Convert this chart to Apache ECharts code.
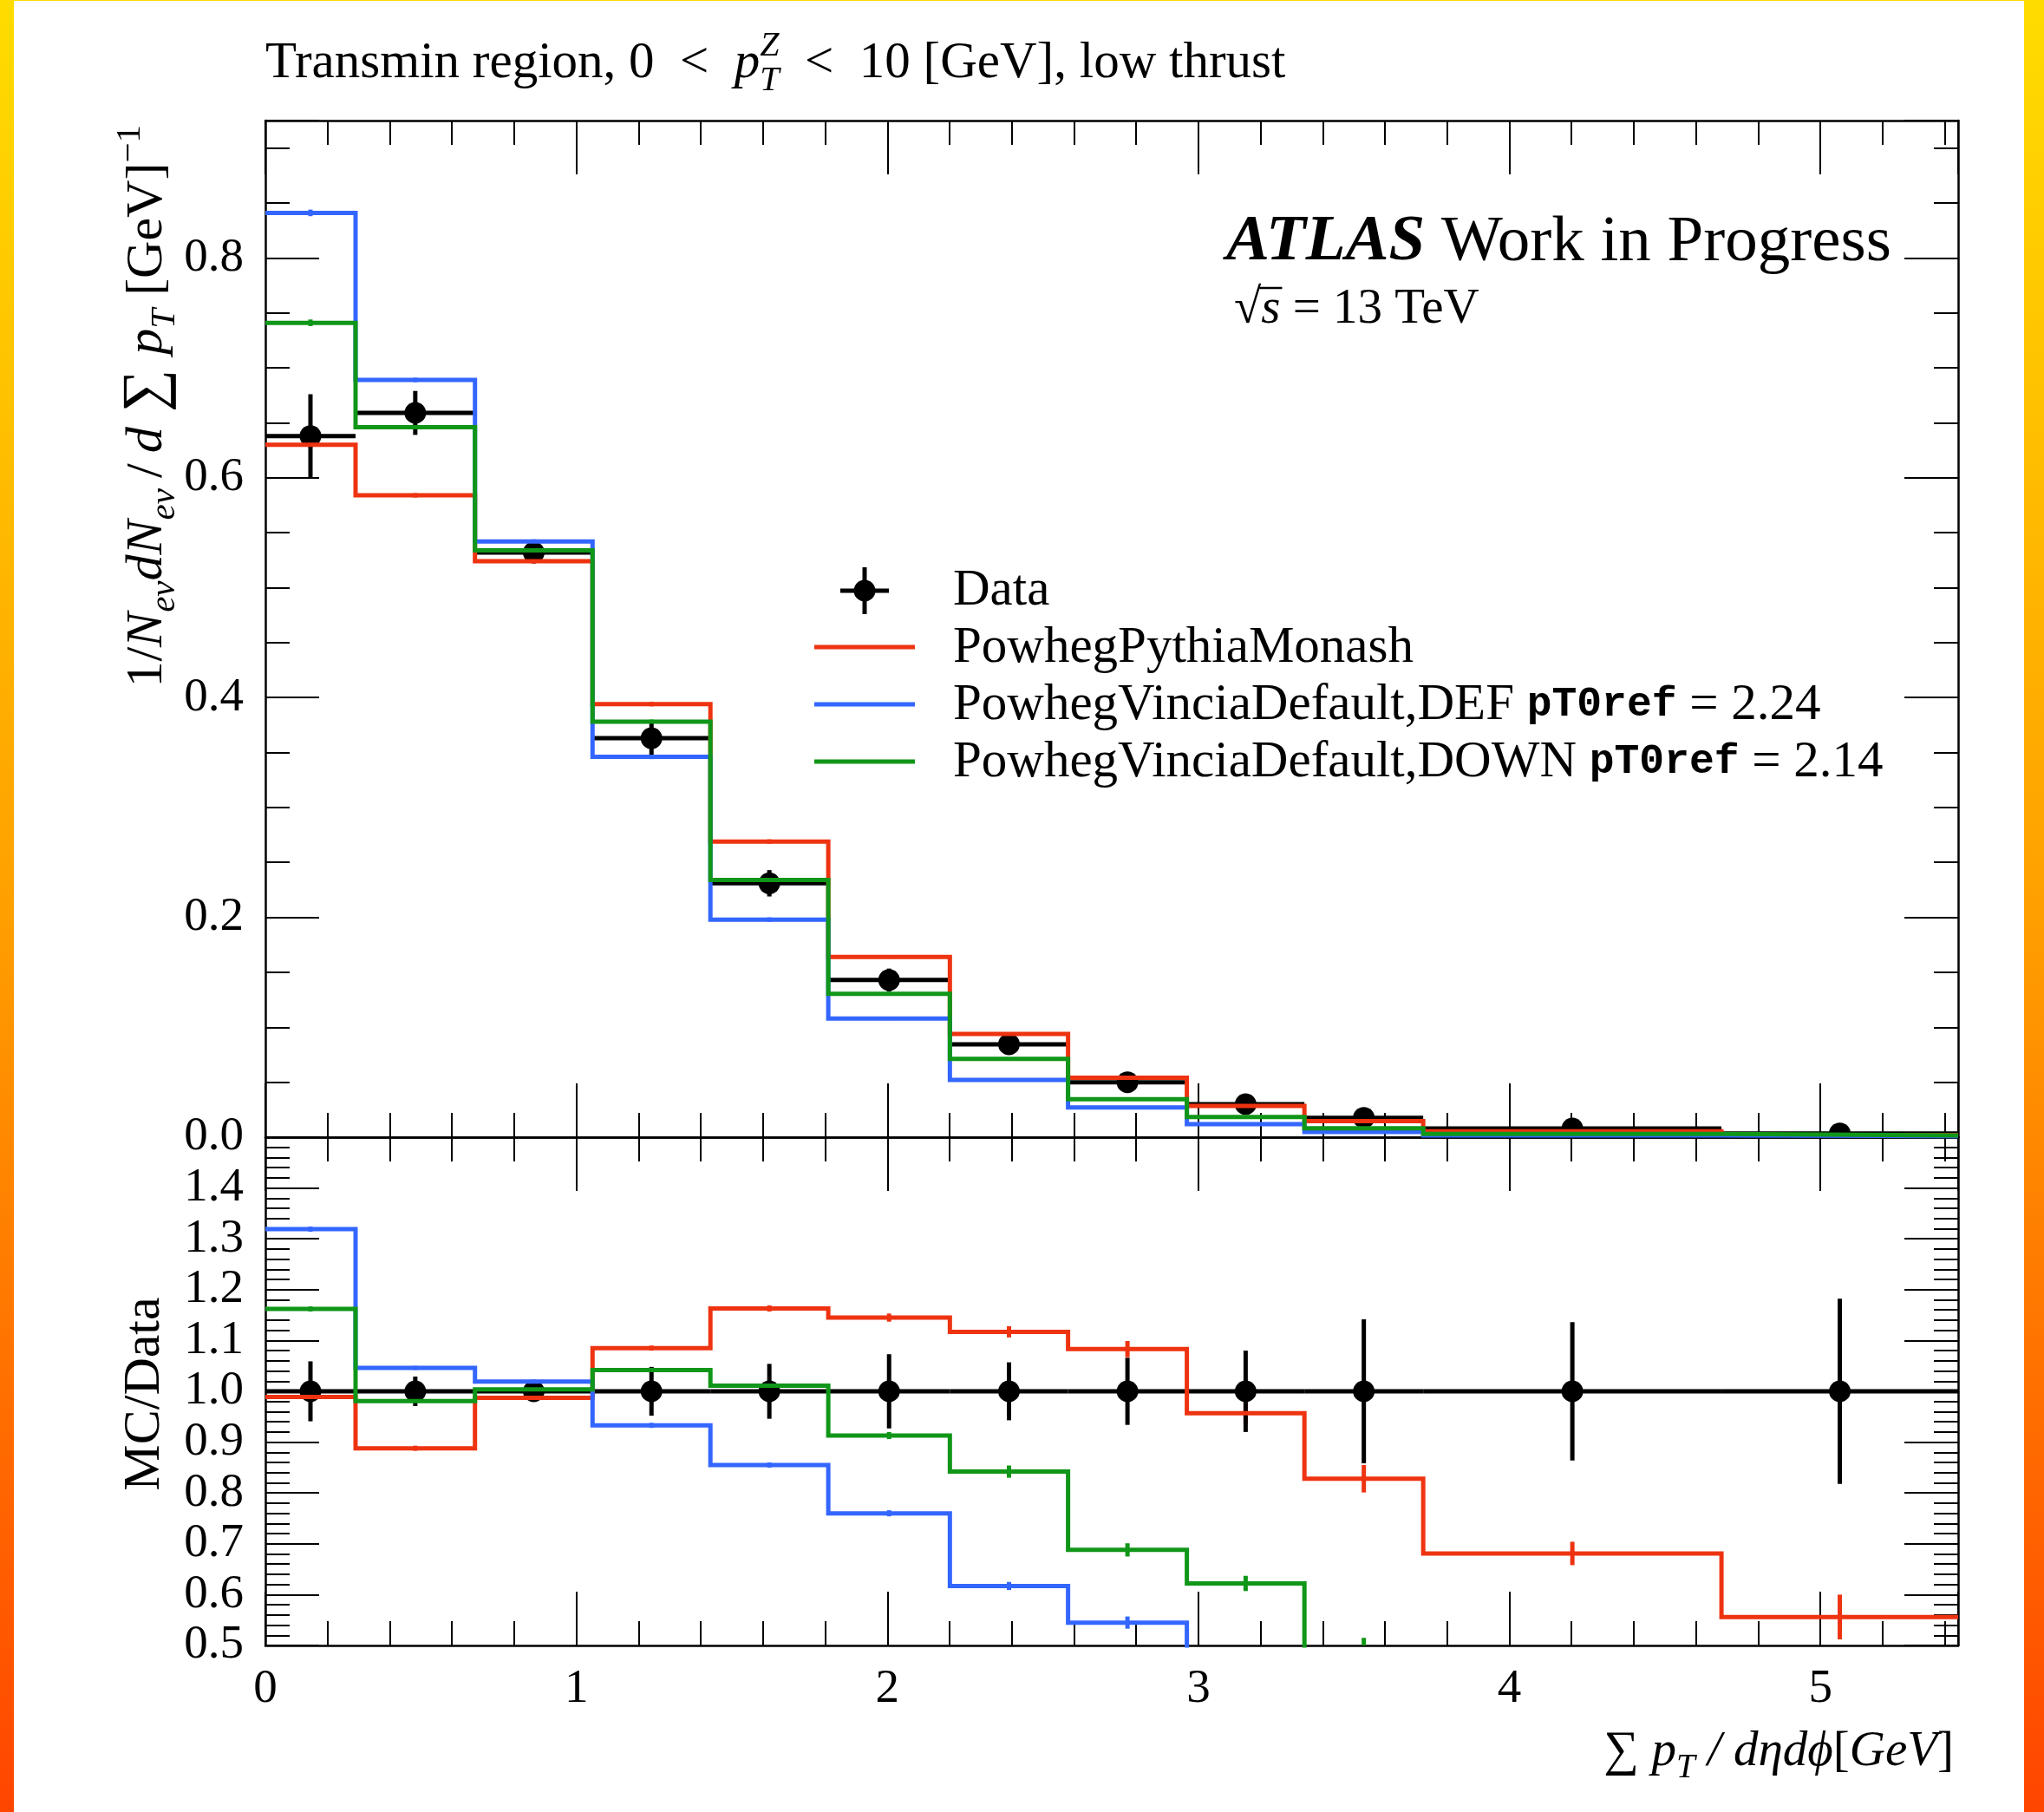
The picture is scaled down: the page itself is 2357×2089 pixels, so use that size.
<!DOCTYPE html>
<html>
<head>
<meta charset="utf-8">
<script src="https://cdn.jsdelivr.net/npm/echarts@6/dist/echarts.min.js"></script>
<style>
  html, body { margin: 0; padding: 0; }
  body {
    width: 2357px; height: 2089px; position: relative; overflow: hidden;
    background: linear-gradient(to bottom, #FFDC00, #FFA000 50%, #FF4500);
  }
  #paper { position: absolute; left: 16px; top: 1px; width: 2318px; height: 2088px; background: #fff; }
  #main { position: absolute; left: 0; top: 0; width: 2357px; height: 2089px; }
</style>
</head>
<body>
<div id="paper"></div>
<div id="main"></div>
<script>
// bin edges of sum pT / d eta d phi [GeV]
var binEdges = [0, 0.290, 0.674, 1.052, 1.431, 1.810, 2.201, 2.581, 2.963, 3.341, 3.723, 4.682, 5.443];

// upper panel: 1/N dN/d sum pT
var dataVals  = [0.638, 0.659, 0.532, 0.363, 0.231, 0.143, 0.0845, 0.050, 0.0300, 0.0176, 0.0079, 0.0034];
var dataErr   = [0.038, 0.020, 0.006, 0.016, 0.012, 0.0104, 0.0048, 0.0033, 0.0024, 0.0025, 0.0011, 0.0006];
var monashVals = [0.630, 0.584, 0.524, 0.394, 0.269, 0.164, 0.094, 0.054, 0.0285, 0.0146, 0.0054, 0.0019];
var vinDefVals = [0.841, 0.689, 0.542, 0.346, 0.198, 0.108, 0.052, 0.027, 0.0118, 0.0047, 0.0016, 0.0009];
var vinDownVals = [0.741, 0.646, 0.534, 0.378, 0.234, 0.1305, 0.0713, 0.0345, 0.0184, 0.0081, 0.0029, 0.0015];
var mcErr = [0.003, 0.002, 0.002, 0.002, 0.002, 0.0015, 0.001, 0.001, 0.0008, 0.0006, 0.0003, 0.0002];

// lower panel: MC/Data
var dataRatio    = [1, 1, 1, 1, 1, 1, 1, 1, 1, 1, 1, 1];
var dataRatioErr = [0.059, 0.029, 0.012, 0.048, 0.054, 0.073, 0.057, 0.066, 0.080, 0.1415, 0.136, 0.182];
var monashRatio  = [0.989, 0.888, 0.987, 1.085, 1.163, 1.145, 1.117, 1.083, 0.957, 0.828, 0.681, 0.556];
var vinDefRatio  = [1.319, 1.046, 1.019, 0.933, 0.855, 0.760, 0.617, 0.545, 0.39, 0.27, 0.20, 0.26];
var vinDownRatio = [1.162, 0.981, 1.004, 1.042, 1.011, 0.913, 0.842, 0.688, 0.622, 0.46, 0.37, 0.44];
var monashRatioErr  = [0.006, 0.005, 0.004, 0.005, 0.006, 0.008, 0.011, 0.016, 0.020, 0.027, 0.023, 0.044];
var vinDefRatioErr  = [0.005, 0.004, 0.004, 0.005, 0.005, 0.006, 0.008, 0.012, 0.012, 0.020, 0.020, 0.030];
var vinDownRatioErr = [0.005, 0.004, 0.004, 0.005, 0.005, 0.007, 0.012, 0.013, 0.015, 0.055, 0.050, 0.060];

var RED = '#EE3311', BLUE = '#3366FF', GREEN = '#109618';
var serif = '"Liberation Serif", "DejaVu Serif", serif';
var mono = '"Liberation Mono", "DejaVu Sans Mono", monospace';
var LW = 5;

function stepPoints(vals) {
  var pts = [];
  for (var i = 0; i < vals.length; i++) pts.push([binEdges[i], vals[i]]);
  pts.push([binEdges[vals.length], vals[vals.length - 1]]);
  return pts;
}
function binItems(vals, errs) {
  return vals.map(function (v, i) { return [binEdges[i], binEdges[i + 1], v, errs[i]]; });
}

function xAxisCfg(grid, pos, showLabel) {
  return {
    type: 'value', gridIndex: grid, position: pos, min: 0, max: 5.443, interval: 1,
    axisLine: { show: true, onZero: false, lineStyle: { color: '#000', width: 2.5 } },
    axisTick: { show: true, inside: true, length: 62, lineStyle: { color: '#000', width: 2 } },
    minorTick: { show: true, splitNumber: 5, length: 28, lineStyle: { color: '#000', width: 2 } },
    splitLine: { show: false },
    axisLabel: {
      show: showLabel, showMaxLabel: false, margin: 23,
      fontFamily: serif, fontSize: 55, color: '#000',
      formatter: function (v) { return String(Math.round(v)); }
    }
  };
}
function yAxisCfg(grid, pos, min, max, interval, split, showLabel) {
  return {
    type: 'value', gridIndex: grid, position: pos, min: min, max: max, interval: interval,
    axisLine: { show: true, onZero: false, lineStyle: { color: '#000', width: 2.5 } },
    axisTick: { show: true, inside: true, length: 62, lineStyle: { color: '#000', width: 2 } },
    minorTick: { show: true, splitNumber: split, length: 28, lineStyle: { color: '#000', width: 2 } },
    splitLine: { show: false },
    axisLabel: {
      show: showLabel, showMaxLabel: false, margin: 25,
      fontFamily: serif, fontSize: 55, color: '#000',
      formatter: function (v) { return v.toFixed(1); }
    }
  };
}

function histLine(vals, color, xi) {
  return {
    type: 'line', xAxisIndex: xi, yAxisIndex: xi, step: 'end', data: stepPoints(vals),
    showSymbol: false, symbol: 'none', silent: true, clip: true,
    lineStyle: { color: color, width: LW, join: 'miter', cap: 'butt' }
  };
}
function errTicks(vals, errs, color, xi) {
  return {
    type: 'custom', xAxisIndex: xi, yAxisIndex: xi, clip: true, silent: true,
    data: binItems(vals, errs), encode: { x: [0, 1], y: 2 },
    renderItem: function (params, api) {
      var c = (api.value(0) + api.value(1)) / 2, v = api.value(2), e = api.value(3);
      var p1 = api.coord([c, v - e]), p2 = api.coord([c, v + e]);
      return { type: 'line', shape: { x1: p1[0], y1: p1[1], x2: p2[0], y2: p2[1] },
               style: { stroke: color, lineWidth: LW } };
    }
  };
}
function dataMarks(vals, errs, xi) {
  return {
    type: 'custom', xAxisIndex: xi, yAxisIndex: xi, clip: true, silent: true,
    data: binItems(vals, errs), encode: { x: [0, 1], y: 2 },
    renderItem: function (params, api) {
      var lo = api.value(0), hi = api.value(1), v = api.value(2), e = api.value(3);
      var c = (lo + hi) / 2;
      var a = api.coord([lo, v]), b = api.coord([hi, v]);
      var t = api.coord([c, v + e]), d = api.coord([c, v - e]), m = api.coord([c, v]);
      var st = { stroke: '#000', lineWidth: LW };
      return { type: 'group', children: [
        { type: 'line', shape: { x1: a[0], y1: a[1], x2: b[0], y2: b[1] }, style: st },
        { type: 'line', shape: { x1: t[0], y1: t[1], x2: d[0], y2: d[1] }, style: st },
        { type: 'circle', shape: { cx: m[0], cy: m[1], r: 12.5 }, style: { fill: '#000' } }
      ] };
    }
  };
}

function rich(size) {
  var s = Math.round(size * 0.68), lh = Math.round(size * 1.35);
  return {
    r: { fontSize: size, fontFamily: serif, lineHeight: lh },
    big: { fontSize: Math.round(size * 1.15), fontFamily: serif, lineHeight: lh },
    i: { fontSize: size, fontFamily: serif, fontStyle: 'italic', lineHeight: lh },
    b: { fontSize: size, fontFamily: serif, fontStyle: 'italic', fontWeight: 'bold', lineHeight: lh },
    sub: { fontSize: s, fontFamily: serif, fontStyle: 'italic', verticalAlign: 'bottom' },
    sup: { fontSize: s, fontFamily: serif, verticalAlign: 'top' },
    supz: { fontSize: s, fontFamily: serif, fontStyle: 'italic', verticalAlign: 'top', width: 0 },
    m: { fontSize: 48, fontFamily: mono, fontWeight: 'bold', lineHeight: lh }
  };
}
function txt(x, y, text, size, align, rot) {
  return {
    type: 'text', x: x, y: y, rotation: rot || 0, silent: true,
    style: { text: text, rich: rich(size), fill: '#000', align: align, verticalAlign: 'middle',
             fontFamily: serif, fontSize: size }
  };
}

// measure for the sqrt vinculum
var ctx = document.createElement('canvas').getContext('2d');
ctx.font = '57px ' + serif;
var wRad = ctx.measureText('\u221A').width;
ctx.font = 'italic 57px ' + serif;
var wS = ctx.measureText('s').width;

var sqX = 1423, sqY = 357;
var graphics = [
  txt(306, 73, '{r|Transmin region, 0\u2002<\u2002}{i|p}{supz|Z}{sub|T}{r|\u2002<\u200210 [GeV], low thrust}', 59, 'left'),
  txt(1414, 280, '{b|ATLAS}{r| Work in Progress}', 75, 'left'),
  txt(sqX, sqY, '{r|\u221A}{i|s}{r| = 13 TeV}', 57, 'left'),
  { type: 'line', silent: true, shape: { x1: sqX + wRad - 2, y1: sqY - 25, x2: sqX + wRad + wS + 2, y2: sqY - 25 },
    style: { stroke: '#000', lineWidth: 2.5 } },
  txt(170, 144, '{r|1/}{i|N}{sub|ev}{i|dN}{sub|ev}{r|\u2009/\u2009}{i|d}{big| \u2211 }{i|p}{sub|T}{r| [GeV]}{sup|\u22121}', 60, 'right', Math.PI / 2),
  txt(167, 1607, '{r|MC/Data}', 60, 'center', Math.PI / 2),
  txt(2253, 2020, '{r|\u2211}{i| p}{sub|T}{i| / d\u03B7d\u03D5}{r|[}{i|GeV}{r|]}', 57, 'right'),

  // legend
  { type: 'line', silent: true, shape: { x1: 969, y1: 681, x2: 1025, y2: 681 }, style: { stroke: '#000', lineWidth: LW } },
  { type: 'line', silent: true, shape: { x1: 997, y1: 654, x2: 997, y2: 708 }, style: { stroke: '#000', lineWidth: LW } },
  { type: 'circle', silent: true, shape: { cx: 997, cy: 681, r: 12.5 }, style: { fill: '#000' } },
  txt(1099, 681, '{r|Data}', 59, 'left'),
  { type: 'line', silent: true, shape: { x1: 939, y1: 746, x2: 1055, y2: 746 }, style: { stroke: RED, lineWidth: LW } },
  txt(1099, 747, '{r|PowhegPythiaMonash}', 59, 'left'),
  { type: 'line', silent: true, shape: { x1: 939, y1: 812, x2: 1055, y2: 812 }, style: { stroke: BLUE, lineWidth: LW } },
  txt(1099, 813, '{r|PowhegVinciaDefault,DEF }{m|pT0ref}{r| = 2.24}', 59, 'left'),
  { type: 'line', silent: true, shape: { x1: 939, y1: 878, x2: 1055, y2: 878 }, style: { stroke: GREEN, lineWidth: LW } },
  txt(1099, 879, '{r|PowhegVinciaDefault,DOWN }{m|pT0ref}{r| = 2.14}', 59, 'left')
];

var chart = echarts.init(document.getElementById('main'), null, { renderer: 'canvas' });
var option = {
  animation: false,
  grid: [
    { left: 306, top: 139, width: 1952, height: 1172 },
    { left: 306, top: 1311, width: 1952, height: 586 }
  ],
  xAxis: [
    xAxisCfg(0, 'bottom', false),
    xAxisCfg(1, 'bottom', true),
    xAxisCfg(0, 'top', false),
    xAxisCfg(1, 'top', false)
  ],
  yAxis: [
    yAxisCfg(0, 'left', 0, 0.925, 0.2, 4, true),
    yAxisCfg(1, 'left', 0.5, 1.5, 0.1, 5, true),
    yAxisCfg(0, 'right', 0, 0.925, 0.2, 4, false),
    yAxisCfg(1, 'right', 0.5, 1.5, 0.1, 5, false)
  ],
  series: [
    histLine(monashVals, RED, 0),
    histLine(vinDefVals, BLUE, 0),
    histLine(vinDownVals, GREEN, 0),
    errTicks(monashVals, mcErr, RED, 0),
    errTicks(vinDefVals, mcErr, BLUE, 0),
    errTicks(vinDownVals, mcErr, GREEN, 0),
    dataMarks(dataVals, dataErr, 0),
    histLine(monashRatio, RED, 1),
    histLine(vinDefRatio, BLUE, 1),
    histLine(vinDownRatio, GREEN, 1),
    errTicks(monashRatio, monashRatioErr, RED, 1),
    errTicks(vinDefRatio, vinDefRatioErr, BLUE, 1),
    errTicks(vinDownRatio, vinDownRatioErr, GREEN, 1),
    dataMarks(dataRatio, dataRatioErr, 1)
  ],
  graphic: { elements: graphics }
};
chart.setOption(option);
</script>
</body>
</html>
